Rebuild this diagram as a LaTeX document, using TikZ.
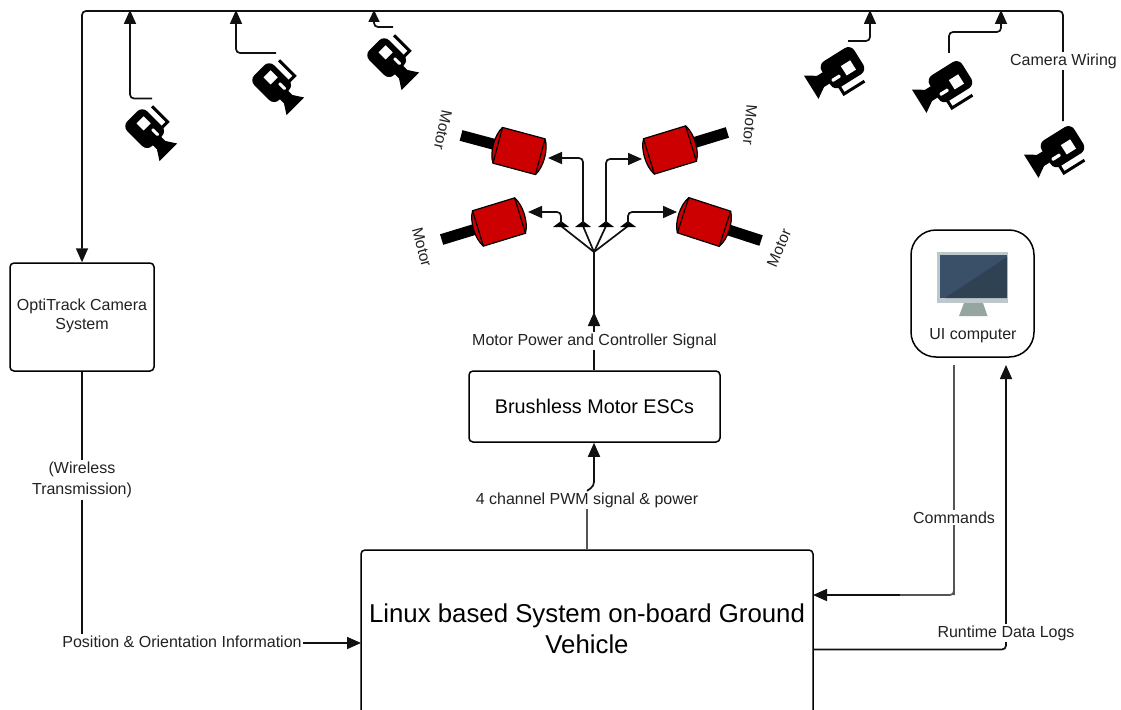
\documentclass[tikz,border=0pt]{standalone}
\usepackage{fontspec}
\setmainfont{Liberation Sans}
\usetikzlibrary{arrows.meta}

\definecolor{motorred}{HTML}{CC0000}
\definecolor{bezelgray}{HTML}{BDC8CC}
\definecolor{screenblue}{HTML}{3A5068}
\definecolor{screendark}{HTML}{2F4254}
\definecolor{standgray}{HTML}{95A5A0}
\definecolor{wiregray}{HTML}{111111}
\definecolor{softgray}{HTML}{555555}
\definecolor{textgray}{HTML}{222222}

\tikzset{
    wire/.style={line width=1.7pt, wiregray, rounded corners=4pt},
    softwire/.style={wire, softgray},
    wirearrow/.style={wire, -{Triangle[length=14pt, width=12pt]}},
    box/.style={draw, line width=1.5pt, rounded corners=4pt, align=center, fill=white},
    lbl/.style={fill=white, inner sep=1.5pt, align=center, text=textgray, font=\fontsize{16}{21}\selectfont},
    motorlbl/.style={font=\fontsize{15.5}{18}\selectfont, inner sep=0pt, text=textgray},
    camera/.pic={
        \fill[black, rounded corners=7pt] (-18,-14) rectangle (17,14);
        \fill[black] (15,-6) rectangle (25,6);
        \fill[white] (-10,-8) rectangle (0,2);
        \fill[white, rounded corners=1pt] (5,-6.5) rectangle (14,-3.5);
        \fill[black] (23,-6) -- (33,-12.5) -- (33,12.5) -- (23,6) -- cycle;
        \draw[line width=3pt] (-11,-21) -- (11,-21) -- (11,-12);
    },
    motor/.pic={
        \fill[black] (-60,-5.5) rectangle (-21,5.5);
        \draw[fill=motorred, line width=1.2pt] (-22,-18.5) -- (22,-18.5)
            .. controls (28,-9) and (28,9) .. (22,18.5) -- (-22,18.5)
            .. controls (-28,9) and (-28,-9) .. (-22,-18.5) -- cycle;
        \draw[line width=1.2pt] (-22,-18.5) -- (-22,18.5);
        \draw[line width=1.2pt] (22,-18.5) -- (22,18.5);
    }
}

\begin{document}
\begin{tikzpicture}[x=1pt, y=-1pt]

\useasboundingbox (0,0) rectangle (1121,709);
\clip (0,0) rectangle (1121,709);

%% boxes
\node[box, minimum width=144pt, minimum height=108pt] (optitrack) at (82,317) {};
\node[font=\fontsize{16}{19.5}\selectfont, align=center, text=textgray] (optitext) at (82,316) {OptiTrack Camera\\System};
\node[box, minimum width=251pt, minimum height=71pt, font=\fontsize{19.8}{24}\selectfont] (esc) at (594.5,406.5) {Brushless Motor ESCs};
\node[box, minimum width=452pt, minimum height=170pt] (linux) at (587,635) {};
\node[font=\fontsize{25.8}{31}\selectfont, align=center] (linuxtext) at (587,629) {Linux based System on-board Ground\\Vehicle};
\node[box, minimum width=123pt, minimum height=127pt, rounded corners=25pt] (ui) at (972.5,293.5) {};

%% monitor
\fill[bezelgray] (937,252) rectangle (1008,303);
\fill[screenblue] (940,255) rectangle (1007,298);
\fill[screendark] (1007,257) -- (1007,298) -- (945,298) -- cycle;
\fill[standgray] (964,303) -- (983,303) -- (987.5,316) -- (959,316) -- cycle;
\node[font=\fontsize{16}{19}\selectfont, text=textgray] (uitext) at (973,336) {UI computer};

%% cameras
\pic[rotate=-45] at (145,129) {camera};
\pic[rotate=-45] at (272,83) {camera};
\pic[rotate=-45] at (387,58) {camera};
\pic[rotate=212, scale=1.1] at (842,68) {camera};
\pic[rotate=212, scale=1.1] at (950,82) {camera};
\pic[rotate=212, scale=1.1] at (1062,147) {camera};

%% camera wiring
\coordinate (camA) at (152,98.5);
\coordinate (camB) at (276,53);
\coordinate (camC) at (393,27);
\coordinate (camD) at (848,41);
\coordinate (camE) at (949,53);
\coordinate (camF) at (1063,121);
\coordinate (topA) at (130,10);
\coordinate (topB) at (236,10);
\coordinate (topC) at (374,10);
\coordinate (topD) at (870,10);
\coordinate (topE) at (1001,10);

\draw[wirearrow] (camF) -- (1063,11) -- (82,11) -- (optitrack.north -| 82,262);
\draw[wirearrow] (camA) -| (topA);
\draw[wirearrow] (camB) -| (topB);
\draw[wirearrow, -{Triangle[length=12pt, width=11pt]}] (camC) -| (topC);
\draw[wirearrow] (camD) -| (topD);
\draw[wirearrow] (camE) |- (1001,32) -- (topE);
\node[lbl] (camwiring) at (1063.5,61) {Camera Wiring};

%% motors
\pic[rotate=-15] at (519,151) {motor};
\pic[rotate=197] at (670,150) {motor};
\pic[rotate=17] at (499,222) {motor};
\pic[rotate=162] at (704,222) {motor};

\node[motorlbl, rotate=-102] (motorA) at (443,130) {Motor};
\node[motorlbl, rotate=-95] (motorB) at (750,125) {Motor};
\node[motorlbl, rotate=-75] (motorC) at (422,247) {Motor};
\node[motorlbl, rotate=67] (motorD) at (779,248) {Motor};

%% motor power fan-out
\coordinate (fork) at (594,252);
\coordinate (tipA) at (561,226);
\coordinate (tipB) at (583,226);
\coordinate (tipC) at (606,226);
\coordinate (tipD) at (628,226);
\coordinate (motorinA) at (528,212);
\coordinate (motorinB) at (548,158);
\coordinate (motorinC) at (642,159);
\coordinate (motorinD) at (677,212);

\node[lbl] (powerlbl) at (594.5,341) {Motor Power and Controller Signal};
\draw[wire] (esc.north -| fork) -- (powerlbl.south -| fork);
\draw[wirearrow] (powerlbl.north -| fork) -- (594,312);
\draw[wire] (594,320) -- (fork);

\foreach \tip in {tipA,tipB,tipC,tipD} {
    \draw[wire] (fork) -- (\tip);
    \fill (\tip) ++(-8,1) -- ++(8,-6) -- ++(8,6) -- cycle;
}
\draw[wirearrow] (tipA) ++(0,-2) |- (motorinA);
\draw[wirearrow] (tipB) ++(0,-2) |- (motorinB);
\draw[wirearrow] (tipC) ++(0,-2) |- (motorinC);
\draw[wirearrow] (tipD) ++(0,-2) |- (motorinD);

%% lower connections
\node[lbl] (pwmlbl) at (587,500) {4 channel PWM signal \& power};
\draw[softwire] (linux.north -| pwmlbl) -- (pwmlbl.south);
\draw[wirearrow] (pwmlbl.north) -- (594,486) -- (esc.south -| 594,442);

\node[lbl] (wirelesslbl) at (82,480) {(Wireless\\Transmission)};
\node[lbl] (poslbl) at (182,642) {Position \& Orientation Information};
\draw[wire] (optitrack.south) -- (wirelesslbl.north);
\draw[wire] (wirelesslbl.south) -- (poslbl.north -| wirelesslbl);
\draw[wirearrow] (poslbl.east) ++(0,1) -- (361,643);

\coordinate (uiout) at (954,365);
\coordinate (uiin) at (1006,365);
\coordinate (linuxin) at (813,595);
\coordinate (linuxout) at (813,649.5);
\draw[softwire] (uiout) -- (954,591) -- (954,595) -- (900,595);
\draw[wirearrow] (900,595) -- (linuxin);
\draw[wirearrow] (linuxout) -| (uiin);
\node[lbl] (commandslbl) at (954,517.5) {Commands};
\node[lbl] (logslbl) at (1006,633) {Runtime Data Logs};

\end{tikzpicture}
\end{document}
